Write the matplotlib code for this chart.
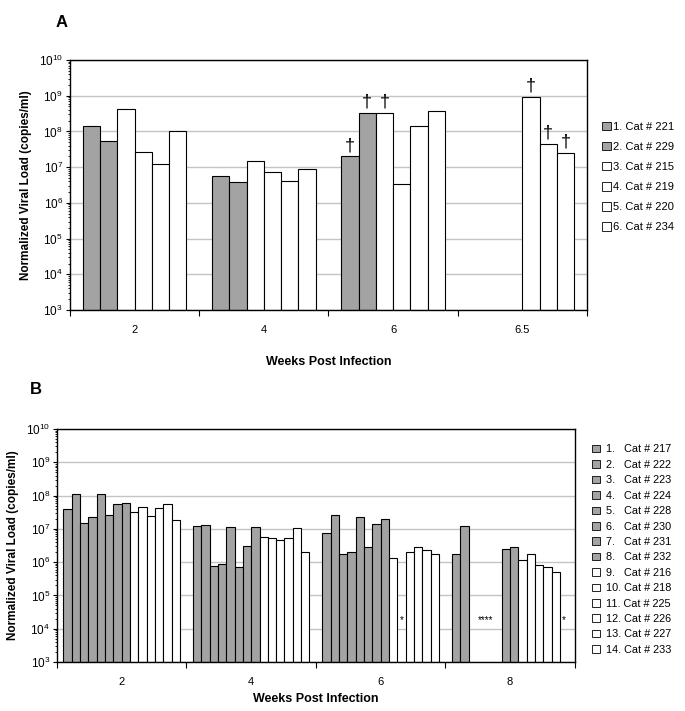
import matplotlib
matplotlib.use("Agg")
import matplotlib.pyplot as plt
import numpy as np
from matplotlib.patches import Patch
from matplotlib.ticker import LogLocator, NullFormatter, FixedLocator

plt.rcParams["font.family"] = ["Liberation Sans", "DejaVu Sans"]

nan = np.nan

# ---- Panel A data ----
weeks_a = ["2", "4", "6", "6.5"]
labels_a = ["1. Cat # 221", "2. Cat # 229", "3. Cat # 215",
            "4. Cat # 219", "5. Cat # 220", "6. Cat # 234"]
gray_a = [True, True, False, False, False, False]
cat221 = [1.4e8, 5.5e6, 2.0e7, nan]
cat229 = [5.5e7, 3.8e6, 3.3e8, nan]
cat215 = [4.3e8, 1.5e7, 3.3e8, nan]
cat219 = [2.6e7, 7.3e6, 3.4e6, 9.3e8]
cat220 = [1.2e7, 4.0e6, 1.45e8, 4.5e7]
cat234 = [1.0e8, 8.7e6, 3.7e8, 2.5e7]
values_a = [cat221, cat229, cat215, cat219, cat220, cat234]
# (series, week) pairs marked with a dagger
daggers_a = [(0, 2), (1, 2), (2, 2), (3, 3), (4, 3), (5, 3)]

# ---- Panel B data ----
weeks_b = ["2", "4", "6", "8"]
labels_b = ["1.   Cat # 217", "2.   Cat # 222", "3.   Cat # 223", "4.   Cat # 224",
            "5.   Cat # 228", "6.   Cat # 230", "7.   Cat # 231", "8.   Cat # 232",
            "9.   Cat # 216", "10. Cat # 218", "11. Cat # 225", "12. Cat # 226",
            "13. Cat # 227", "14. Cat # 233"]
gray_b = [True] * 8 + [False] * 6
cat217 = [3.9e7, 1.2e7, 7.4e6, 1.8e6]
cat222 = [1.1e8, 1.3e7, 2.7e7, 1.26e7]
cat223 = [1.5e7, 7.8e5, 1.7e6, nan]
cat224 = [2.2e7, 8.7e5, 2.0e6, nan]
cat228 = [1.1e8, 1.15e7, 2.2e7, nan]
cat230 = [2.7e7, 7.1e5, 2.8e6, nan]
cat231 = [5.5e7, 3.1e6, 1.4e7, 2.45e6]
cat232 = [5.9e7, 1.17e7, 2.0e7, 2.8e6]
cat216 = [3.2e7, 5.6e6, 1.3e6, 1.17e6]
cat218 = [4.7e7, 5.4e6, nan, 1.8e6]
cat225 = [2.4e7, 4.6e6, 2.0e6, 8.3e5]
cat226 = [4.2e7, 5.4e6, 2.95e6, 7.2e5]
cat227 = [5.4e7, 1.05e7, 2.3e6, 5.1e5]
cat233 = [1.8e7, 2.0e6, 1.7e6, nan]
values_b = [cat217, cat222, cat223, cat224, cat228, cat230, cat231, cat232,
            cat216, cat218, cat225, cat226, cat227, cat233]
# (week, first series, last series, text) for samples below detection
asterisks_b = [(2, 9, 9, "*"), (3, 2, 5, "****"), (3, 13, 13, "*")]

GRAY = "#a3a3a3"


def draw_panel(ax, weeks, values, grays, group_width, xpad, xlabelpad):
    n = len(values)
    w = group_width / n
    x = np.arange(len(weeks))
    centers = []
    for i, vals in enumerate(values):
        pos = x - group_width / 2 + (i + 0.5) * w
        centers.append(pos)
        ax.bar(pos, np.array(vals) - 1e3, width=w, bottom=1e3,
               color=GRAY if grays[i] else "white",
               edgecolor="black", linewidth=0.8, zorder=3)
    ax.set_yscale("log")
    ax.set_ylim(1e3, 1e10)
    ax.set_xlim(-0.5, len(weeks) - 0.5)
    ax.yaxis.set_major_locator(LogLocator(base=10, numticks=10))
    ax.yaxis.set_minor_locator(LogLocator(base=10, subs=np.arange(2, 10), numticks=100))
    ax.yaxis.set_minor_formatter(NullFormatter())
    ax.grid(axis="y", which="major", color="#c4c4c4", linewidth=1.0, zorder=0)
    ax.xaxis.set_major_locator(FixedLocator(np.arange(len(weeks) + 1) - 0.5))
    ax.xaxis.set_major_formatter(NullFormatter())
    ax.xaxis.set_minor_locator(FixedLocator(x))
    ax.set_xticklabels(weeks, minor=True)
    ax.tick_params(axis="x", which="major", length=4, direction="out")
    ax.tick_params(axis="x", which="minor", length=0, labelsize=8, pad=xpad)
    ax.tick_params(axis="y", which="major", length=3, labelsize=8.5, pad=2)
    ax.tick_params(axis="y", which="minor", length=1.5)
    for s in ax.spines.values():
        s.set_linewidth(1.0)
        s.set_zorder(4)
    ax.set_xlabel("Weeks Post Infection", fontsize=9, fontweight="bold",
                  labelpad=xlabelpad)
    ax.set_ylabel("Normalized Viral Load (copies/ml)", fontsize=8.5,
                  fontweight="bold", labelpad=5)
    return centers


fig = plt.figure(figsize=(6.85, 7.11), dpi=100)

# ---- Panel A ----
ax_a = fig.add_axes([0.102, 0.564, 0.755, 0.3516])
centers_a = draw_panel(ax_a, weeks_a, values_a, gray_a, 0.8, 11, 15)
for s, wk in daggers_a:
    ax_a.text(centers_a[s][wk], values_a[s][wk] * 1.15, "\u2020",
              ha="center", va="bottom", fontsize=13, zorder=5)
handles_a = [Patch(facecolor=GRAY if g else "white", edgecolor="black", linewidth=0.6)
             for g in gray_a]
fig.legend(handles_a, labels_a, loc="upper left", bbox_to_anchor=(0.872, 0.835),
           frameon=False, fontsize=8, handlelength=0.8, handleheight=0.8,
           handletextpad=0.2, labelspacing=0.9, borderaxespad=0)
fig.text(0.09, 0.968, "A", fontsize=12, fontweight="heavy", ha="center", va="center")

# ---- Panel B ----
ax_b = fig.add_axes([0.0832, 0.0689, 0.756, 0.3277])
centers_b = draw_panel(ax_b, weeks_b, values_b, gray_b, 0.9, 11, 4)
for wk, first, last, txt in asterisks_b:
    xpos = (centers_b[first][wk] + centers_b[last][wk]) / 2
    ax_b.text(xpos, 1.8e4, txt, ha="center", va="center", fontsize=7, zorder=5)
handles_b = [Patch(facecolor=GRAY if g else "white", edgecolor="black", linewidth=0.6)
             for g in gray_b]
fig.legend(handles_b, labels_b, loc="upper left", bbox_to_anchor=(0.858, 0.381),
           frameon=False, fontsize=7.8, handlelength=0.7, handleheight=0.7,
           handletextpad=0.6, labelspacing=0.5, borderaxespad=0)
fig.text(0.052, 0.452, "B", fontsize=12, fontweight="heavy", ha="center", va="center")

fig.savefig("out.png", dpi=100)
